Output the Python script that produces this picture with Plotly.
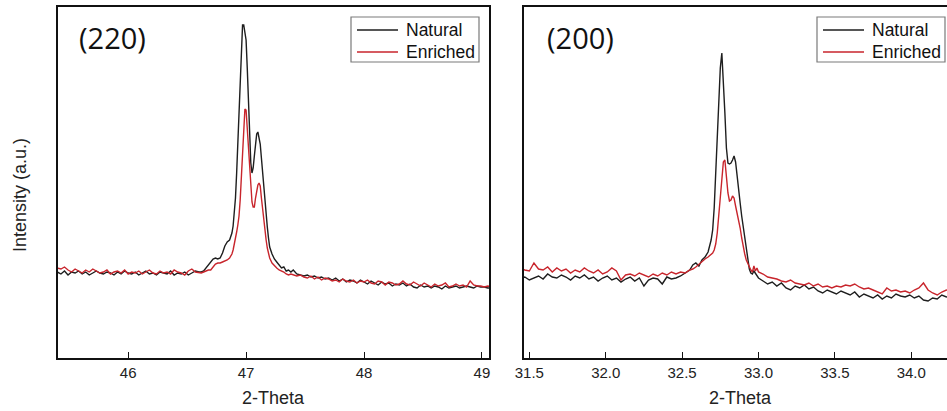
import plotly.graph_objects as go

# ---------------- (220) panel data ----------------
two_theta_220 = [
    45.40, 45.43, 45.46, 45.49, 45.52, 45.55, 45.58, 45.61, 45.64, 45.67,
    45.70, 45.73, 45.76, 45.79, 45.82, 45.85, 45.88, 45.91, 45.94, 45.97,
    46.00, 46.03, 46.06, 46.09, 46.12, 46.15, 46.18, 46.21, 46.24, 46.27,
    46.30, 46.33, 46.36, 46.39, 46.42, 46.45, 46.48, 46.51, 46.54, 46.57,
    46.60,
    46.62, 46.64, 46.66, 46.68, 46.70, 46.72, 46.74, 46.76, 46.78, 46.80,
    46.82, 46.84, 46.86, 46.88,
    46.89, 46.90, 46.91, 46.92, 46.93, 46.94, 46.95, 46.96, 46.97, 46.98,
    46.99, 47.00, 47.01, 47.02, 47.03, 47.04, 47.05, 47.06, 47.07, 47.08,
    47.09, 47.10, 47.11, 47.12, 47.13, 47.14, 47.15, 47.16, 47.17, 47.18,
    47.19, 47.20,
    47.22, 47.24, 47.26, 47.28, 47.30, 47.32, 47.34, 47.36, 47.38, 47.40,
    47.43, 47.46, 47.49, 47.52, 47.55, 47.58, 47.61, 47.64, 47.67, 47.70,
    47.73, 47.76, 47.79, 47.82, 47.85, 47.88, 47.91, 47.94, 47.97, 48.00,
    48.03, 48.06, 48.09, 48.12, 48.15, 48.18, 48.21, 48.24, 48.27, 48.30,
    48.33, 48.36, 48.39, 48.42, 48.45, 48.48, 48.51, 48.54, 48.57, 48.60,
    48.63, 48.66, 48.69, 48.72, 48.75, 48.78, 48.81, 48.84, 48.87, 48.90,
    48.93, 48.96, 48.99, 49.02, 49.05, 49.08,
]
natural_220 = [
    86, 84, 87, 83, 86, 85, 87, 84, 86, 83,
    85, 87, 85, 84, 86, 85, 83, 86, 84, 87,
    85, 84, 86, 83, 85, 87, 84, 85, 83, 86,
    85, 84, 87, 83, 85, 84, 86, 83, 85, 87,
    86,
    86, 87, 90, 94, 97, 99, 100, 99, 100, 105,
    112, 116, 118, 125,
    132, 145, 160, 185, 215, 250, 290, 318, 333, 333,
    326, 318, 290, 250, 215, 195, 185, 190, 202, 215,
    224, 226, 220, 214, 200, 185, 171, 155, 142, 131,
    120, 111,
    104, 99, 96, 93, 90, 91, 87, 88, 86, 88,
    84, 83, 82, 83, 81, 82, 80, 81, 79, 80,
    78, 80, 77, 79, 76, 78, 77, 75, 78, 76,
    74, 77, 75, 73, 76, 74, 75, 72, 74, 73,
    75, 72, 74, 71, 70, 73, 71, 72, 70, 72,
    71, 69, 72, 70, 71, 72, 70, 71, 72, 71,
    70, 72, 71, 71, 70, 70,
]
enriched_220 = [
    90, 89, 91, 88, 86, 89, 87, 85, 88, 86,
    89, 87, 85, 86, 88, 84, 86, 87, 85, 88,
    84, 86, 85, 87, 84, 86, 88, 85, 84, 87,
    85, 86, 84, 88, 86, 85, 83, 87, 89, 86,
    85,
    85, 86, 87, 88, 88, 91, 94, 95, 95, 96,
    97, 98, 100, 104,
    108, 113, 120, 126, 133, 142, 158, 178, 205, 225,
    249, 248, 228, 205, 185, 168, 156, 151, 151, 160,
    168, 173, 175, 172, 160, 148, 138, 128, 118, 110,
    105, 100,
    95, 92, 90, 88, 87, 86, 84, 83, 84, 83,
    82, 83, 81, 80, 82, 79, 81, 78, 80, 79,
    77, 78, 76, 79, 77, 76, 78, 75, 77, 76,
    78, 75, 74, 77, 76, 73, 76, 75, 73, 74,
    77, 74, 73, 76, 74, 72, 75, 73, 71, 74,
    72, 73, 75, 71, 72, 74, 72, 73, 71, 77,
    73, 72, 72, 71, 72, 71,
]

# ---------------- (200) panel data ----------------
two_theta_200 = [
    31.44, 31.47, 31.50, 31.53, 31.56, 31.59, 31.62, 31.65, 31.68, 31.71,
    31.74, 31.77, 31.80, 31.83, 31.86, 31.89, 31.92, 31.95, 31.98, 32.01,
    32.04, 32.07, 32.10, 32.13, 32.16, 32.19, 32.22, 32.25, 32.28, 32.31,
    32.34, 32.37, 32.40, 32.43, 32.46, 32.49, 32.52, 32.55,
    32.57, 32.59, 32.61, 32.63, 32.65, 32.67, 32.69,
    32.70, 32.71, 32.72, 32.73, 32.74, 32.75, 32.76, 32.77, 32.78, 32.79,
    32.80, 32.81, 32.82, 32.83, 32.84, 32.85, 32.86, 32.87, 32.88, 32.89,
    32.90, 32.91, 32.92, 32.93, 32.94, 32.95, 32.96, 32.97, 32.98, 32.99,
    33.00,
    33.03, 33.06, 33.09, 33.12, 33.15, 33.18, 33.21, 33.24, 33.27, 33.30,
    33.33, 33.36, 33.39, 33.42, 33.45, 33.48, 33.51, 33.54, 33.57, 33.60,
    33.63, 33.66, 33.69, 33.72, 33.75, 33.78, 33.81, 33.84, 33.87, 33.90,
    33.93, 33.96, 33.99, 34.02, 34.05, 34.08, 34.11, 34.14, 34.17, 34.20,
    34.23, 34.26,
]
natural_200 = [
    80, 81, 78, 80, 82, 79, 84, 81, 80, 83,
    81, 78, 82, 80, 83, 79, 81, 77, 80, 82,
    78, 80, 76, 79, 81, 77, 80, 72, 78, 80,
    79, 74, 81, 79, 80, 82, 85, 88,
    93, 95, 92, 98, 101, 106, 118,
    128, 150, 185, 225, 260, 290, 305, 280, 245, 210,
    195, 194, 195, 198, 202, 196, 180, 168, 155, 142,
    131, 118, 106, 97, 89, 85, 84, 87, 85, 82,
    80,
    77, 74, 76, 72, 75, 70, 68, 72, 70, 73,
    69, 71, 67, 65, 68, 66, 64, 67, 65, 63,
    66, 61, 64, 62, 60, 63, 59, 62, 60, 64,
    62, 61, 63, 60, 62, 58, 57, 60, 59, 63,
    61, 62,
]
enriched_200 = [
    90, 88, 87, 95, 89, 88, 91, 86, 90, 87,
    89, 85, 88, 86, 90, 87, 85, 88, 84, 86,
    90, 87, 78, 83, 84, 82, 85, 83, 81, 84,
    82, 85, 83, 86, 84, 86, 85, 88,
    89, 91, 94, 97, 99, 101, 104,
    105, 108, 114, 125, 145, 165, 185, 196, 198, 180,
    165, 157, 158, 162, 160, 152, 145, 140, 130, 120,
    111, 104, 98, 94, 90, 88, 86, 92, 87, 90,
    86,
    84, 81, 80, 79, 77, 76, 78, 75, 74, 73,
    75, 72, 74, 71, 72, 70, 72, 71, 73, 72,
    74, 71, 69, 70, 68, 66, 64, 70, 67, 68,
    66, 67, 65, 68, 70, 75, 68, 65, 63, 66,
    68, 67,
]

ticks_220 = [46, 47, 48, 49]
ticks_200 = [31.5, 32.0, 32.5, 33.0, 33.5, 34.0]
tick_text_200 = ["31.5", "32.0", "32.5", "33.0", "33.5", "34.0"]
series_names = ["Natural", "Enriched"]

BLACK = "#1e1e1e"
RED = "#c8252c"
COLORS = [BLACK, RED]
FONT = "Arial, Liberation Sans, sans-serif"

fig = go.Figure()
for name, ys, col in zip(series_names, [natural_220, enriched_220], COLORS):
    fig.add_trace(go.Scatter(x=two_theta_220, y=ys, mode="lines", name=name,
                             line=dict(color=col, width=1.4), xaxis="x", yaxis="y",
                             showlegend=False))
for name, ys, col in zip(series_names, [natural_200, enriched_200], COLORS):
    fig.add_trace(go.Scatter(x=two_theta_200, y=ys, mode="lines", name=name,
                             line=dict(color=col, width=1.4), xaxis="x2", yaxis="y2",
                             showlegend=False))

L, R, T, B = 58, 0, 7, 53
W, H = 947, 411
PW = W - L - R
PH = H - T - B

def px(x):
    return (x - L) / PW

def py(y):
    return (H - B - y) / PH

axis_common = dict(showgrid=False, zeroline=False, showline=True, linecolor="#111",
                   linewidth=1.5)

fig.update_layout(
    width=W, height=H,
    margin=dict(l=L, r=R, t=T, b=B),
    paper_bgcolor="white", plot_bgcolor="white",
    font=dict(family=FONT, color="#222"),
    showlegend=False,
    xaxis=dict(domain=[0, px(489)], range=[45.405, 49.06], tickvals=ticks_220,
               ticks="inside", ticklen=6, tickwidth=1.3, tickcolor="#111",
               tickfont=dict(size=15, family=FONT, color="#222"), mirror=True,
               anchor="y", **axis_common),
    yaxis=dict(domain=[0, 1], range=[0, 351], showticklabels=False, ticks="",
               mirror=True, anchor="x", **axis_common),
    xaxis2=dict(domain=[px(524), 1], range=[31.465, 34.234], tickvals=ticks_200,
                ticktext=tick_text_200,
                ticks="inside", ticklen=6, tickwidth=1.3, tickcolor="#111",
                tickfont=dict(size=15, family=FONT, color="#222"), mirror=True,
                anchor="y2", **axis_common),
    yaxis2=dict(domain=[0, 1], range=[0, 351], showticklabels=False, ticks="",
                mirror=False, anchor="x2", **axis_common),
)

shapes = []
annotations = []
# legend boxes (drawn as shapes + text)
for (bx0, bx1, lx0, lx1, tx) in [(351, 479, 357, 398, 404), (817, 945, 823, 864, 870)]:
    shapes.append(dict(type="rect", xref="paper", yref="paper",
                       x0=px(bx0), x1=px(bx1), y0=py(62), y1=py(17),
                       line=dict(color="#7a7a7a", width=1.2), fillcolor="white", layer="above"))
    for name, col, yy in zip(series_names, COLORS, [30, 52]):
        shapes.append(dict(type="line", xref="paper", yref="paper",
                           x0=px(lx0), x1=px(lx1), y0=py(yy), y1=py(yy),
                           line=dict(color=col, width=1.4), layer="above"))
        annotations.append(dict(text=name, x=px(tx), y=py(yy), xref="paper", yref="paper",
                                xanchor="left", yanchor="middle", showarrow=False,
                                font=dict(size=17.5, family=FONT, color="#111")))

annotations += [
    dict(text="(220)", x=px(77), y=py(37), xref="paper", yref="paper",
         xanchor="left", yanchor="middle", showarrow=False,
         font=dict(size=29, family="Open Sans, sans-serif", color="#111")),
    dict(text="(200)", x=px(545), y=py(37), xref="paper", yref="paper",
         xanchor="left", yanchor="middle", showarrow=False,
         font=dict(size=29, family="Open Sans, sans-serif", color="#111")),
    dict(text="2-Theta", x=px(273), y=py(398), xref="paper", yref="paper",
         xanchor="center", yanchor="middle", showarrow=False,
         font=dict(size=18, family=FONT, color="#222")),
    dict(text="2-Theta", x=px(740), y=py(398), xref="paper", yref="paper",
         xanchor="center", yanchor="middle", showarrow=False,
         font=dict(size=18, family=FONT, color="#222")),
    dict(text="Intensity (a.u.)", x=px(20), y=py(195), xref="paper", yref="paper",
         xanchor="center", yanchor="middle", showarrow=False, textangle=-90,
         font=dict(size=18, family=FONT, color="#222")),
]
fig.update_layout(shapes=shapes, annotations=annotations)

fig.write_html("out.html")
